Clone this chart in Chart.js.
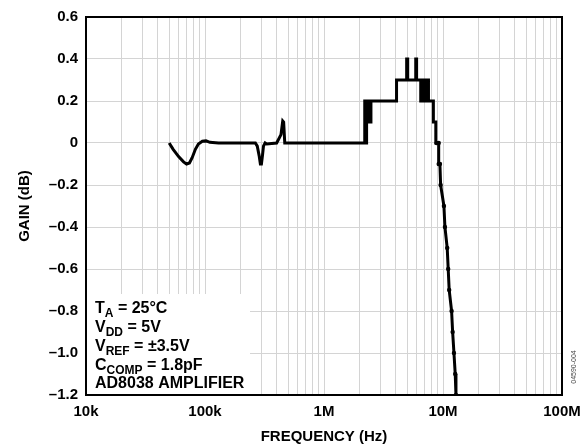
<!DOCTYPE html>
<html>
<head>
<meta charset="utf-8">
<script src="https://cdn.jsdelivr.net/npm/chart.js@4/dist/chart.umd.min.js"></script>
<style>
  html, body { margin: 0; padding: 0; background: #fff; }
  canvas { display: block; }
</style>
</head>
<body>
<canvas id="gain-chart" width="582" height="446"></canvas>
<script>
// Frequency response (Hz, dB)
const freqHz = [
  50e3, 54e3, 60e3, 66e3, 70e3, 74e3, 78e3, 83e3, 88e3, 95e3, 102e3, 110e3, 130e3,
  265e3, 275e3, 285e3, 292e3, 298e3, 304e3, 310e3, 320e3, 330e3,
  400e3, 435e3, 450e3, 458e3, 468e3,
  2.15e6, 2.2e6, 2.2e6, 2.24e6, 2.24e6, 2.28e6, 2.28e6, 2.33e6, 2.33e6, 2.38e6, 2.38e6, 2.43e6, 2.43e6, 2.48e6, 2.48e6,
  4.07e6, 4.07e6, 4.95e6, 4.95e6, 5.05e6, 5.05e6, 5.9e6, 5.9e6, 6.0e6, 6.0e6,
  6.5e6, 6.5e6, 6.7e6, 6.7e6, 6.9e6, 6.9e6, 7.1e6, 7.1e6, 7.3e6, 7.3e6, 7.45e6, 7.45e6, 7.55e6, 7.55e6,
  8.3e6, 8.3e6, 8.7e6, 8.7e6, 8.84e6, 9.2e6, 9.2e6, 9.42e6,
  9.55e6, 10.18e6, 10.38e6, 10.85e6, 11.06e6, 11.27e6, 11.81e6, 12.05e6, 12.36e6, 12.67e6, 12.85e6
];
const gainDb = [
  0, -0.03, -0.065, -0.09, -0.1, -0.095, -0.07, -0.03, -0.005, 0.008, 0.01, 0.003, 0,
  0, -0.015, -0.06, -0.1, -0.1, -0.06, -0.015, 0, -0.005,
  0, 0.04, 0.105, 0.1, 0,
  0, 0, 0.2, 0.2, 0, 0, 0.2, 0.2, 0.1, 0.1, 0.2, 0.2, 0.1, 0.1, 0.2,
  0.2, 0.3, 0.3, 0.4, 0.4, 0.3, 0.3, 0.4, 0.4, 0.3,
  0.3, 0.2, 0.2, 0.3, 0.3, 0.2, 0.2, 0.3, 0.3, 0.2, 0.2, 0.3, 0.3, 0.2,
  0.2, 0.1, 0.1, 0, 0, 0, -0.1, -0.1,
  -0.2, -0.3, -0.4, -0.5, -0.6, -0.7, -0.8, -0.9, -1.0, -1.1, -1.2
];

const xTickValues = [1e4, 1e5, 1e6, 1e7, 1e8];
const xTickLabels = ['10k', '100k', '1M', '10M', '100M'];
const yTickValues = [-1.2, -1.0, -0.8, -0.6, -0.4, -0.2, 0, 0.2, 0.4, 0.6];
const yTickLabels = ['\u20131.2', '\u20131.0', '\u20130.8', '\u20130.6', '\u20130.4', '\u20130.2', '0', '0.2', '0.4', '0.6'];

// conditions box: [main, subscript, rest]
const noteLines = [
  ['T', 'A', ' = 25\u00B0C'],
  ['V', 'DD', ' = 5V'],
  ['V', 'REF', ' = \u00B13.5V'],
  ['C', 'COMP', ' = 1.8pF'],
  ['AD8038 AMPLIFIER', '', '']
];
const figureId = '04590-004';

const FONT = "'Liberation Sans', Arial, sans-serif";
const GRID = '#d4d4d4';

// minor log gridlines 1..9 per decade
const xGridValues = [];
for (let i = 0; i < xTickValues.length - 1; i++) {
  for (let m = 1; m <= 9; m++) xGridValues.push(m * xTickValues[i]);
}
xGridValues.push(xTickValues[xTickValues.length - 1]);

const points = freqHz.map((f, i) => ({ x: f, y: gainDb[i] }));

const framePlugin = {
  id: 'frame',
  beforeDatasetsDraw(chart) {
    const { ctx, chartArea } = chart;
    ctx.save();
    // white panel behind the conditions text
    ctx.fillStyle = '#fff';
    ctx.fillRect(chartArea.left, chartArea.bottom - 101, 164, 101);
    ctx.fillStyle = '#000';
    ctx.textBaseline = 'alphabetic';
    const baselines = [82, 63, 44, 25, 7];
    noteLines.forEach((ln, i) => {
      let x = chartArea.left + 9;
      const y = chartArea.bottom - baselines[i];
      ctx.font = 'bold 16px ' + FONT;
      ctx.fillText(ln[0], x, y);
      x += ctx.measureText(ln[0]).width;
      if (ln[1]) {
        ctx.font = 'bold 12px ' + FONT;
        ctx.fillText(ln[1], x, y + 4);
        x += ctx.measureText(ln[1]).width;
      }
      ctx.font = 'bold 16px ' + FONT;
      ctx.fillText(ln[2], x, y);
    });
    ctx.restore();
  },
  afterDatasetsDraw(chart) {
    const { ctx, chartArea } = chart;
    ctx.save();
    ctx.strokeStyle = '#000';
    ctx.lineWidth = 2;
    ctx.strokeRect(chartArea.left, chartArea.top, chartArea.right - chartArea.left, chartArea.bottom - chartArea.top);
    // figure number on the right edge
    ctx.translate(574, 367);
    ctx.rotate(-Math.PI / 2);
    ctx.font = '7px ' + FONT;
    ctx.fillStyle = '#444';
    ctx.textAlign = 'center';
    ctx.textBaseline = 'middle';
    ctx.fillText(figureId, 0, 0);
    ctx.restore();
  }
};

new Chart(document.getElementById('gain-chart').getContext('2d'), {
  type: 'line',
  data: {
    datasets: [{
      data: points,
      borderColor: '#000',
      backgroundColor: '#000',
      borderWidth: 3,
      tension: 0,
      pointRadius: (c) => (c.raw && c.raw.x >= 8.8e6 ? 2.2 : 0),
      pointBorderWidth: 0,
      pointHoverRadius: 0
    }]
  },
  options: {
    responsive: false,
    devicePixelRatio: 1,
    animation: false,
    layout: { padding: { top: 15, right: 20, left: 0, bottom: 0 } },
    plugins: { legend: { display: false }, tooltip: { enabled: false } },
    scales: {
      x: {
        type: 'logarithmic',
        min: 1e4,
        max: 1e8,
        afterBuildTicks: (s) => { s.ticks = xGridValues.map(v => ({ value: v })); },
        afterFit: (s) => { s.height = 51; s.paddingLeft = 0; s.paddingRight = 0; },
        grid: { color: GRID, lineWidth: 1, drawTicks: false },
        border: { display: false },
        ticks: {
          autoSkip: false,
          maxRotation: 0,
          minRotation: 0,
          padding: 8,
          color: '#000',
          font: { family: FONT, size: 15, weight: 'bold' },
          callback: (v) => {
            const k = xTickValues.indexOf(v);
            return k >= 0 ? xTickLabels[k] : '';
          }
        },
        title: {
          display: true,
          text: 'FREQUENCY (Hz)',
          color: '#000',
          font: { family: FONT, size: 15, weight: 'bold' },
          padding: { top: 0, bottom: 0 }
        }
      },
      y: {
        min: -1.2,
        max: 0.6,
        afterBuildTicks: (s) => { s.ticks = yTickValues.map(v => ({ value: v })); },
        afterFit: (s) => { s.width = 86; },
        grid: { color: GRID, lineWidth: 1, drawTicks: false },
        border: { display: false },
        ticks: {
          padding: 8,
          color: '#000',
          font: { family: FONT, size: 15, weight: 'bold' },
          callback: (v, i) => yTickLabels[i]
        },
        title: {
          display: true,
          text: 'GAIN (dB)',
          color: '#000',
          font: { family: FONT, size: 15, weight: 'bold' },
          padding: { top: 16, bottom: 0 }
        }
      }
    }
  },
  plugins: [framePlugin]
});
</script>
</body>
</html>
